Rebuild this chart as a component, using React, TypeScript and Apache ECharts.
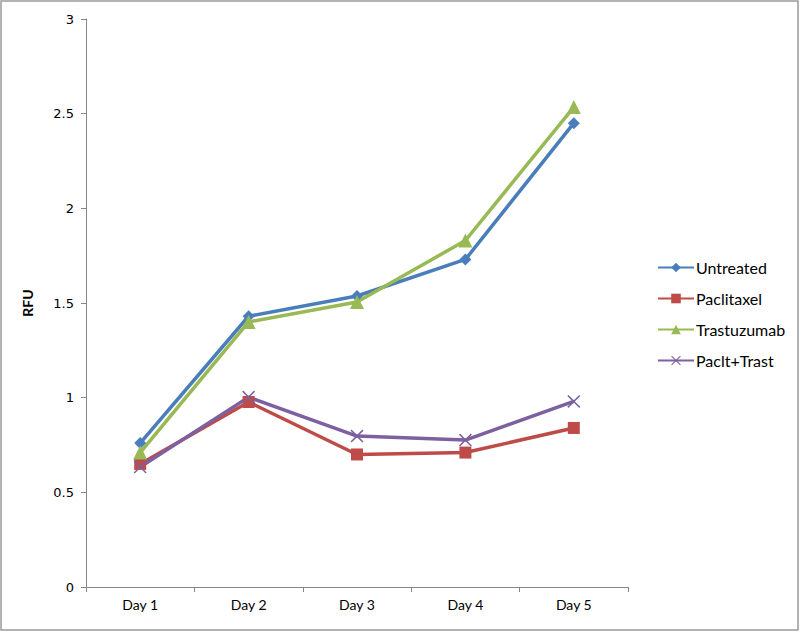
import React, { useEffect, useRef } from "react";
import * as echarts from "echarts";

const categories = ["Day 1", "Day 2", "Day 3", "Day 4", "Day 5"];
const untreated = [0.76, 1.43, 1.537, 1.73, 2.45];
const paclitaxel = [0.65, 0.977, 0.7, 0.71, 0.84];
const trastuzumab = [0.71, 1.4, 1.505, 1.83, 2.535];
const pacltTrast = [0.634, 1.003, 0.797, 0.776, 0.98];

const crossPath =
  "path://M0,1L1,0L6,5L11,0L12,1L7,6L12,11L11,12L6,7L1,12L0,11L5,6Z";

export default function App() {
  const ref = useRef<HTMLDivElement>(null);
  useEffect(() => {
    if (!ref.current) return;
    const chart = echarts.init(ref.current, undefined, { renderer: "svg" });
    const mk = (name: string, data: number[], color: string, symbol: string, size: number) => ({
      name,
      type: "line",
      data,
      symbol,
      symbolSize: size,
      lineStyle: { color, width: 3.5 },
      itemStyle: { color },
    });
    chart.setOption({
      animation: false,
      backgroundColor: "#ffffff",
      grid: { left: 86, right: 172, top: 19, bottom: 45 },
      graphic: [
        {
          type: "rect",
          shape: { x: 1, y: 1, width: 797, height: 629 },
          style: { fill: "none", stroke: "#9a9a9a", lineWidth: 1.5 },
          silent: true,
        },
      ],
      legend: {
        orient: "vertical",
        left: 652,
        top: 253,
        itemWidth: 36,
        itemHeight: 12,
        itemGap: 12,
        textStyle: { fontFamily: "Lato", fontSize: 16, lineHeight: 19, color: "#000", padding: [0, 0, 0, -3] },
        data: ["Untreated", "Paclitaxel", "Trastuzumab", "Paclt+Trast"],
      },
      xAxis: {
        type: "category",
        data: categories,
        boundaryGap: true,
        axisLine: { lineStyle: { color: "#868686", width: 1 } },
        axisTick: { show: true, length: 5, alignWithLabel: false, lineStyle: { color: "#868686" } },
        axisLabel: { fontFamily: "Lato", fontSize: 14, color: "#000", margin: 10 },
        splitLine: { show: false },
      },
      yAxis: {
        type: "value",
        min: 0,
        max: 3,
        interval: 0.5,
        name: "RFU",
        nameLocation: "middle",
        nameGap: 52,
        nameTextStyle: { fontFamily: "Lato", fontWeight: "bold", fontSize: 14, color: "#000" },
        axisLine: { show: true, lineStyle: { color: "#868686", width: 1 } },
        axisTick: { show: true, length: 5, lineStyle: { color: "#868686" } },
        axisLabel: { fontFamily: "DejaVu Sans", fontSize: 13, color: "#000", margin: 12 },
        splitLine: { show: false },
      },
      series: [
        mk("Untreated", untreated, "#4A7EBB", "diamond", 12),
        mk("Paclitaxel", paclitaxel, "#BE4B48", "rect", 12),
        mk("Trastuzumab", trastuzumab, "#98B954", "triangle", 14),
        mk("Paclt+Trast", pacltTrast, "#7D60A0", crossPath, 13),
      ],
    });
    return () => chart.dispose();
  }, []);
  return (
    <div
      ref={ref}
      style={{ position: "fixed", left: 0, top: 0, width: 800, height: 632 }}
    />
  );
}
